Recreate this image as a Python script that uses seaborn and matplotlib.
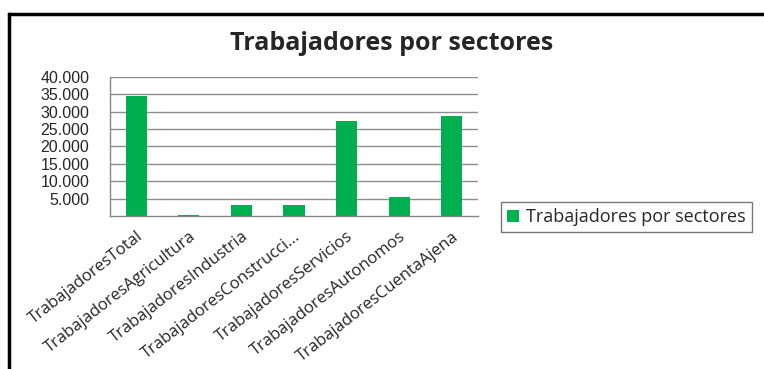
import matplotlib
matplotlib.use("Agg")
import matplotlib.pyplot as plt
import seaborn as sns
import pandas as pd
from matplotlib.lines import Line2D
from matplotlib.patches import Patch
from matplotlib.ticker import FuncFormatter, FixedLocator

categories = ["TrabajadoresTotal", "TrabajadoresAgricultura", "TrabajadoresIndustria",
              "TrabajadoresConstrucci...", "TrabajadoresServicios", "TrabajadoresAutonomos",
              "TrabajadoresCuentaAjena"]
values = [34450, 300, 3300, 3300, 27450, 5400, 28900]
series_name = "Trabajadores por sectores"
title = "Trabajadores por sectores"
yticks = [5000, 10000, 15000, 20000, 25000, 30000, 35000, 40000]

sns.set_style("white")
W, H = 764, 369
fig = plt.figure(figsize=(W / 100, H / 100), dpi=100)
ax = fig.add_axes([110 / W, 1 - 216 / H, (478 - 110) / W, (216 - 77) / H])

df = pd.DataFrame({"cat": categories, "val": values})
green = "#00B050"
sns.barplot(data=df, x="cat", y="val", color=green, width=0.4, saturation=1,
            linewidth=0, ax=ax)

ax.set_ylim(0, 40000)
ax.set_xlim(-0.5, len(categories) - 0.5)
ax.set_yticks(yticks)
ax.yaxis.set_major_formatter(FuncFormatter(lambda v, p: f"{int(v):,}".replace(",", ".")))
ax.yaxis.set_minor_locator(FixedLocator([0]))
ax.tick_params(axis="y", which="both", direction="out", length=6, color="#868686", width=1,
               labelsize=11.5, pad=9)
for lab in ax.get_yticklabels():
    lab.set_fontfamily("Liberation Sans")
ax.grid(axis="y", color="#8e8e8e", linewidth=1)
ax.set_axisbelow(True)

ax.set_xticks(range(len(categories)))
ax.set_xticklabels(categories, rotation=38, ha="right", rotation_mode="anchor",
                   fontsize=12, family="Open Sans")
ax.tick_params(axis="x", which="major", length=0, pad=9)
ax.set_xticks([i - 0.5 for i in range(len(categories) + 1)], minor=True)
ax.tick_params(axis="x", which="minor", length=6, color="#868686", width=1, direction="out")

ax.set_xlabel("")
ax.set_ylabel("")
for s in ["top", "right"]:
    ax.spines[s].set_visible(False)
for s in ["left", "bottom"]:
    ax.spines[s].set_color("#868686")
    ax.spines[s].set_linewidth(1)

fig.text(392 / W, 1 - 43 / H, title, ha="center", va="center", fontsize=18,
         fontweight="bold", family="Open Sans")

handle = Patch(facecolor=green, edgecolor="none")
leg = fig.legend([handle], [series_name], loc="center left",
                 bbox_to_anchor=(501 / W, 1 - 217 / H), frameon=True, fancybox=False,
                 prop={"family": "Open Sans", "size": 13}, handlelength=0.65, handleheight=0.65,
                 handletextpad=0.4, borderpad=0.35, borderaxespad=0)
leg.get_frame().set_edgecolor("#555555")
leg.get_frame().set_linewidth(1)

fig.add_artist(Line2D([9 / W, 1], [1 - 14 / H, 1 - 14 / H], transform=fig.transFigure,
                      color="black", linewidth=2.5))
fig.add_artist(Line2D([9 / W, 9 / W], [0, 1 - 14 / H], transform=fig.transFigure,
                      color="black", linewidth=2.5, solid_capstyle="projecting"))

fig.savefig("out.png", dpi=100)
